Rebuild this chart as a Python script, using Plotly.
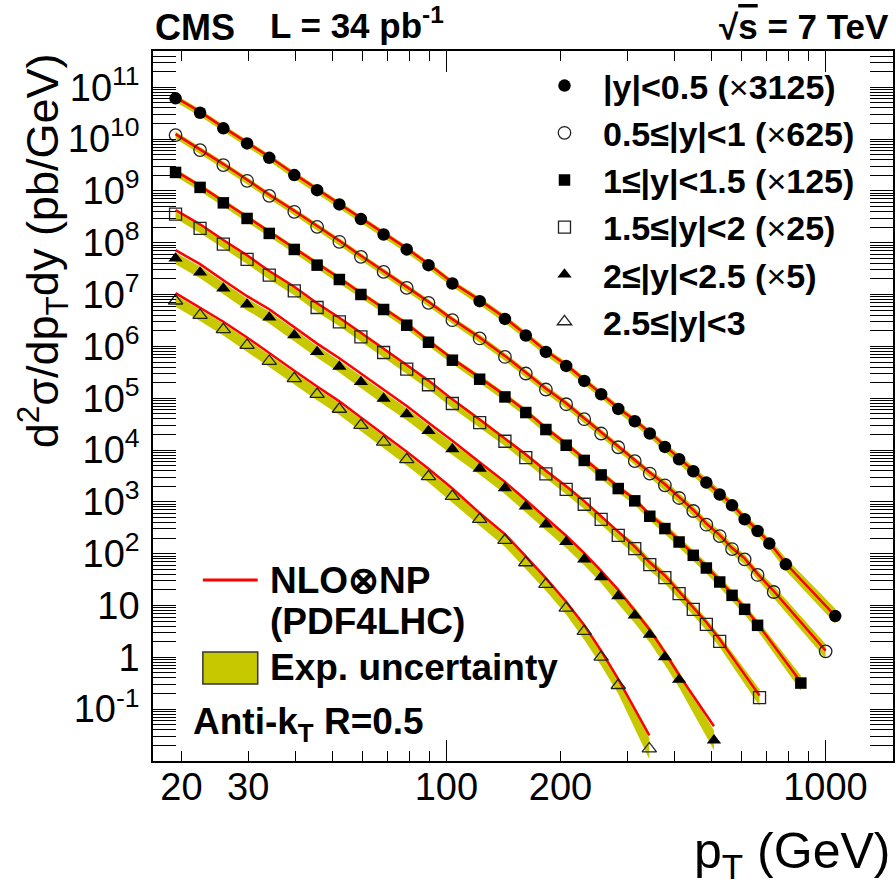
import numpy as np
import plotly.graph_objects as go

# ---------------- data ----------------
# jet pT bin positions (GeV) shared by all rapidity bins
pt_common = [19.3, 22.4, 25.8, 29.8, 34.1, 39.7, 45.6, 52.2, 59.5, 68.3, 78.6, 89.7,
             103.7, 122.4, 142.7, 162, 183, 207, 231, 256, 284, 314, 344, 377, 411,
             448, 485, 526, 567, 612, 662, 711]

x_y0 = pt_common[:32] + [786, 1061]
x_y1 = pt_common[:31] + [730, 1001]
x_y2 = pt_common[:31] + [861]
x_y3 = pt_common[:28] + [670]
x_y4 = pt_common[:25] + [508]
x_y5 = pt_common[:21] + [343]

# log10 of d2sigma/dpT dy (pb/GeV), scaled, data points
lg_y0 = [10.786, 10.508, 10.207, 9.917, 9.639, 9.305, 9.015, 8.739, 8.456, 8.160, 7.871, 7.568,
         7.214, 6.873, 6.531, 6.210, 5.894, 5.624, 5.334, 5.077, 4.793, 4.556, 4.319, 4.060,
         3.822, 3.591, 3.373, 3.141, 2.934, 2.664, 2.438, 2.195, 1.795, 0.797]
lg_y1 = [10.077, 9.788, 9.498, 9.195, 8.905, 8.597, 8.307, 8.018, 7.728, 7.438, 7.129, 6.840,
         6.506, 6.153, 5.797, 5.477, 5.168, 4.884, 4.595, 4.319, 4.054, 3.787, 3.546, 3.320,
         3.075, 2.824, 2.56, 2.34, 2.09, 1.89, 1.59, 1.261, 0.116]
lg_y2 = [9.357, 9.068, 8.770, 8.469, 8.180, 7.871, 7.568, 7.291, 7.002, 6.712, 6.409, 6.080,
         5.734, 5.367, 5.025, 4.724, 4.396, 4.093, 3.800, 3.520, 3.257, 3.020, 2.722, 2.485,
         2.226, 1.969, 1.724, 1.454, 1.197, 0.927, 0.618, -0.496]
lg_y3 = [8.552, 8.276, 7.973, 7.678, 7.375, 7.071, 6.751, 6.473, 6.183, 5.882, 5.560, 5.260,
         4.898, 4.531, 4.170, 3.855, 3.540, 3.240, 2.954, 2.664, 2.355, 2.098, 1.790, 1.539,
         1.230, 0.927, 0.637, 0.309, -0.778]
lg_y4 = [7.697, 7.427, 7.118, 6.809, 6.558, 6.216, 5.894, 5.610, 5.315, 4.994, 4.691, 4.369,
         4.020, 3.643, 3.266, 2.915, 2.568, 2.226, 1.892, 1.550, 1.183, 0.811, 0.438, 0.006,
         -0.431, -1.602]
lg_y5 = [6.879, 6.602, 6.326, 6.023, 5.714, 5.380, 5.077, 4.790, 4.479, 4.157, 3.817, 3.490,
         3.108, 2.664, 2.259, 1.828, 1.409, 0.952, 0.502, 0.006, -0.541, -1.763]

# log10 of NLO x NP theory (PDF4LHC), same pT positions
th_y0 = [10.806, 10.528, 10.227, 9.937, 9.659, 9.325, 9.035, 8.759, 8.476, 8.180, 7.891, 7.588,
         7.234, 6.893, 6.551, 6.230, 5.914, 5.644, 5.354, 5.097, 4.813, 4.576, 4.339, 4.080,
         3.842, 3.611, 3.393, 3.161, 2.954, 2.684, 2.458, 2.215, 1.810, 0.800]
th_y1 = [10.097, 9.808, 9.518, 9.215, 8.925, 8.617, 8.327, 8.038, 7.748, 7.458, 7.149, 6.860,
         6.526, 6.173, 5.817, 5.497, 5.188, 4.904, 4.615, 4.339, 4.074, 3.807, 3.566, 3.340,
         3.095, 2.844, 2.58, 2.36, 2.11, 1.91, 1.61, 1.28, 0.13]
th_y2 = [9.387, 9.098, 8.800, 8.499, 8.210, 7.901, 7.598, 7.321, 7.032, 6.742, 6.439, 6.110,
         5.764, 5.397, 5.055, 4.754, 4.426, 4.123, 3.830, 3.550, 3.287, 3.050, 2.752, 2.515,
         2.256, 1.999, 1.754, 1.484, 1.227, 0.957, 0.648, -0.476]
th_y3 = [8.632, 8.356, 8.053, 7.758, 7.455, 7.151, 6.831, 6.553, 6.263, 5.962, 5.640, 5.340,
         4.978, 4.591, 4.230, 3.915, 3.600, 3.300, 3.014, 2.724, 2.415, 2.138, 1.830, 1.579,
         1.270, 0.967, 0.677, 0.349, -0.738]
th_y4 = [7.857, 7.587, 7.278, 6.969, 6.718, 6.376, 6.054, 5.770, 5.475, 5.154, 4.851, 4.529,
         4.180, 3.763, 3.386, 3.035, 2.688, 2.346, 2.012, 1.670, 1.303, 0.901, 0.528, 0.096,
         -0.341, -1.330]
th_y5 = [7.029, 6.752, 6.476, 6.173, 5.864, 5.530, 5.227, 4.940, 4.629, 4.307, 3.967, 3.640,
         3.258, 2.784, 2.379, 1.948, 1.529, 1.072, 0.622, 0.126, -0.421, -1.506]

# experimental uncertainty (percent) per point
unc_y0 = [17, 17, 17, 17, 17, 17, 17, 17, 17, 17, 17, 17, 17, 19, 19, 19, 19, 19, 19, 19, 19,
          19, 19, 24, 24, 24, 24, 24, 24, 24, 24, 24, 33, 40]
unc_y1 = [17, 17, 17, 17, 17, 17, 17, 17, 17, 17, 17, 17, 17, 19, 19, 19, 19, 19, 19, 19, 19,
          19, 19, 25, 25, 25, 25, 25, 25, 25, 25, 32, 38]
unc_y2 = [18, 18, 18, 18, 18, 18, 18, 18, 18, 18, 18, 18, 18, 20, 20, 20, 20, 20, 20, 20, 20,
          20, 20, 27, 27, 27, 27, 27, 27, 27, 27, 40]
unc_y3 = [22, 22, 22, 22, 22, 22, 22, 22, 22, 22, 22, 22, 22, 24, 24, 24, 24, 24, 24, 24, 24,
          30, 30, 30, 30, 30, 30, 30, 45]
unc_y4 = [30, 30, 30, 30, 30, 30, 30, 30, 30, 30, 30, 30, 30, 30, 30, 30, 30, 30, 30, 30,
          42, 42, 42, 42, 42, 55]
unc_y5 = [30, 30, 30, 30, 30, 30, 30, 30, 30, 30, 30, 30, 30, 33, 33, 33, 33, 33, 45, 45, 45, 60]

X = "<span style='font-weight:normal'>×</span>"
labels = [f"|y|&lt;0.5 ({X}3125)",
          f"0.5≤|y|&lt;1 ({X}625)",
          f"1≤|y|&lt;1.5 ({X}125)",
          f"1.5≤|y|&lt;2 ({X}25)",
          f"2≤|y|&lt;2.5 ({X}5)",
          "2.5≤|y|&lt;3"]

symbols = ["circle", "circle-open", "square", "square-open", "triangle-up", "triangle-up-open"]
sizes = [12.5, 12.5, 11.5, 12, 12.5, 12.5]

xs = [x_y0, x_y1, x_y2, x_y3, x_y4, x_y5]
lgs = [lg_y0, lg_y1, lg_y2, lg_y3, lg_y4, lg_y5]
ths = [th_y0, th_y1, th_y2, th_y3, th_y4, th_y5]
uncs = [unc_y0, unc_y1, unc_y2, unc_y3, unc_y4, unc_y5]

BAND = "#c8c800"
RED = "#ff0000"
FONT = "Liberation Sans, Arial, Helvetica, sans-serif"

fig = go.Figure()

# uncertainty bands
for x, lg, u in zip(xs, lgs, uncs):
    x = np.array(x, float)
    y = np.power(10.0, np.array(lg))
    f = 1 + np.array(u) / 100.0
    hi, lo = y * f, y / f
    fig.add_trace(go.Scatter(x=np.concatenate([x, x[::-1]]), y=np.concatenate([hi, lo[::-1]]),
                             fill="toself", fillcolor=BAND, mode="lines",
                             line=dict(width=0, color=BAND), showlegend=False, hoverinfo="skip"))
# theory lines
for x, th in zip(xs, ths):
    fig.add_trace(go.Scatter(x=x, y=np.power(10.0, np.array(th)), mode="lines",
                             line=dict(color=RED, width=2.5), showlegend=False, hoverinfo="skip"))
# data points
for x, lg, name, sym, sz in zip(xs, lgs, labels, symbols, sizes):
    open_ = sym.endswith("open")
    fig.add_trace(go.Scatter(x=x, y=np.power(10.0, np.array(lg)), mode="markers", name=name,
                             legendgroup=name,
                             marker=dict(symbol=sym, size=sz, color="#222" if open_ else "black",
                                         line=dict(width=1.3 if open_ else 0, color="#222"))))

# ---------------- axes ----------------
W, H = 896, 886
L, R, T, B = 153, 1, 51, 125
xr = [np.log10(16.83), np.log10(1507)]
yr = [-2.0, 11.70]

xt = [20, 30, 40, 50, 60, 70, 80, 90, 100, 200, 300, 400, 500, 600, 700, 800, 900, 1000]
xl = {20: "20", 30: "30", 100: "100", 200: "200", 1000: "1000"}
yt = [10.0 ** k for k in range(-1, 12)]
ytxt = []
for k in range(-1, 12):
    if k == 0:
        ytxt.append("1")
    elif k == 1:
        ytxt.append("10")
    else:
        ytxt.append(f"10<sup>{k}</sup>")
yminor = [m * 10.0 ** k for k in range(-2, 12) for m in range(2, 10) if m * 10.0 ** k < 10 ** 11.7]

fig.update_layout(
    width=W, height=H, margin=dict(l=L, r=R, t=T, b=B, pad=0),
    paper_bgcolor="white", plot_bgcolor="white",
    font=dict(family=FONT, color="black"),
    xaxis=dict(type="log", range=xr, showgrid=False, zeroline=False,
               showline=True, linecolor="black", linewidth=1.5, mirror="allticks",
               ticks="inside", ticklen=10, tickwidth=1, tickcolor="black",
               tickmode="array", tickvals=xt, ticktext=[xl.get(v, "") for v in xt],
               tickfont=dict(size=38), ticklabelstandoff=-8),
    xaxis2=dict(type="log", range=xr, overlaying="x", anchor="y", side="bottom",
                showgrid=False, zeroline=False, showline=False, mirror="allticks",
                ticks="inside", ticklen=21, tickwidth=1, tickcolor="black",
                tickmode="array", tickvals=[100, 1000], showticklabels=False),
    yaxis=dict(type="log", range=yr, showgrid=False, zeroline=False,
               showline=True, linecolor="black", linewidth=1.5, mirror="allticks",
               ticks="inside", ticklen=23, tickwidth=1, tickcolor="black",
               tickmode="array", tickvals=yt, ticktext=ytxt,
               tickfont=dict(size=38), ticklabelstandoff=4,
               minor=dict(tickmode="array", tickvals=yminor, ticks="inside", ticklen=12,
                          tickwidth=1, tickcolor="black", showgrid=False)),
    legend=dict(x=(527 - L) / 742, y=(761 - 57) / 710, xanchor="left", yanchor="top",
                bgcolor="rgba(0,0,0,0)", font=dict(size=34, family=FONT, weight="bold"),
                itemwidth=67, tracegroupgap=1, traceorder="normal"),
)
# dummy trace so that xaxis2 is drawn
fig.add_trace(go.Scatter(x=[100], y=[1], xaxis="x2", mode="markers",
                         marker=dict(opacity=0), showlegend=False, hoverinfo="skip"))


def px(xp):
    return (xp - L) / 742.0


def py(yp):
    return (761 - yp) / 710.0


ann = []
# header
ann.append(dict(text="<b>CMS</b>", x=px(153), y=py(27), xanchor="left", yanchor="middle",
                font=dict(size=36)))
ann.append(dict(text="<b>L = 34 pb<sup>-1</sup></b>", x=px(268), y=py(23), xanchor="left",
                yanchor="middle", font=dict(size=35)))
ann.append(dict(text="<b>√<span style='text-decoration:overline'>s</span> = 7 TeV</b>",
                x=px(893), y=py(26), xanchor="right", yanchor="middle", font=dict(size=35)))
# bottom-left legend texts
ann.append(dict(text="<b>NLO⊗NP</b>", x=px(268), y=py(580), xanchor="left", yanchor="middle",
                font=dict(size=37)))
ann.append(dict(text="<b>(PDF4LHC)</b>", x=px(268), y=py(621), xanchor="left", yanchor="middle",
                font=dict(size=37)))
ann.append(dict(text="<b>Exp. uncertainty</b>", x=px(268), y=py(667), xanchor="left",
                yanchor="middle", font=dict(size=37)))
ann.append(dict(text="<b>Anti-k<sub>T</sub> R=0.5</b>", x=px(191), y=py(724), xanchor="left",
                yanchor="middle", font=dict(size=37)))
# axis titles
ann.append(dict(text="p<sub>T</sub> (GeV)", x=px(894), y=py(854), xanchor="right",
                yanchor="middle", font=dict(size=50)))
ann.append(dict(text="d<sup>2</sup>σ/dp<sub>T</sub>dy (pb/GeV)", x=px(42), y=py(251),
                xanchor="center", yanchor="middle", textangle=-90, font=dict(size=45)))
for a in ann:
    a.update(xref="paper", yref="paper", showarrow=False)
fig.update_layout(annotations=ann)

fig.update_layout(shapes=[
    dict(type="line", xref="paper", yref="paper", x0=px(203), x1=px(258), y0=py(580), y1=py(580),
         line=dict(color=RED, width=3)),
    dict(type="rect", xref="paper", yref="paper", x0=px(203), x1=px(258), y0=py(684), y1=py(652),
         fillcolor=BAND, line=dict(color="#333", width=1.5)),
])

fig.write_html("out.html", config={"displayModeBar": False},
               post_script="document.body.style.margin='0';document.body.style.overflow='hidden';")
